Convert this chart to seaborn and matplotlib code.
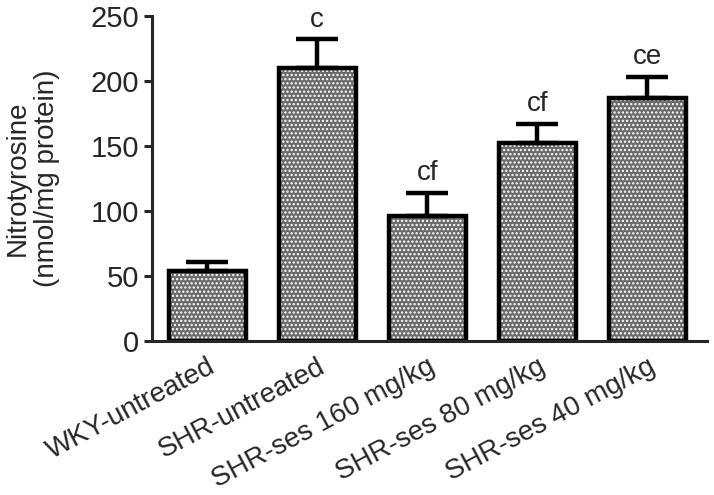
import numpy as np
import pandas as pd
import matplotlib
matplotlib.use("Agg")
import matplotlib.pyplot as plt
import seaborn as sns

# Values
groups = ["WKY-untreated", "SHR-untreated", "SHR-ses 160 mg/kg",
          "SHR-ses 80 mg/kg", "SHR-ses 40 mg/kg"]
means = [54, 210, 96, 152, 187]
errors = [7, 22, 18, 15, 16]
letters = ["", "c", "cf", "cf", "ce"]

df = pd.DataFrame({"group": groups, "value": means})

sns.set_style("ticks")
plt.rcParams["font.family"] = ["Liberation Sans", "DejaVu Sans"]
plt.rcParams["hatch.linewidth"] = 1.1

fig, ax = plt.subplots(figsize=(7.14, 4.95), dpi=100)
# dotted gray fill (white dots), then a black outline on top
sns.barplot(data=df, x="group", y="value", color="#6a6a6a", width=0.7,
            edgecolor="white", linewidth=0, hatch="....", saturation=1, ax=ax)
sns.barplot(data=df, x="group", y="value", color="black", width=0.7,
            fill=False, linewidth=3.2, ax=ax)

for i in range(len(groups)):
    top = means[i] + errors[i]
    ax.errorbar(i, means[i], yerr=[[0], [errors[i]]], fmt="none", ecolor="black",
                elinewidth=3.2, capsize=15, capthick=3.2, zorder=5)
    if letters[i]:
        ax.text(i, top + 5, letters[i], ha="center", va="bottom", fontsize=20)

ax.set_ylim(0, 250)
ax.set_yticks(np.arange(0, 251, 50))
ax.set_xlim(-0.5, 4.54)
ax.set_xlabel("")
ax.set_ylabel("Nitrotyrosine\n(nmol/mg protein)", fontsize=20, linespacing=1.15,
              labelpad=22)
ax.tick_params(axis="y", labelsize=21, width=2.2, length=6, direction="out")
ax.tick_params(axis="x", labelsize=20, length=0, pad=9)
plt.setp(ax.get_xticklabels(), rotation=28, ha="right", rotation_mode="anchor")
for s in ["left", "bottom"]:
    ax.spines[s].set_linewidth(2.2)
sns.despine(ax=ax)

fig.subplots_adjust(left=0.213, right=0.99, top=0.968, bottom=0.311)
fig.savefig("out.png", dpi=100)
